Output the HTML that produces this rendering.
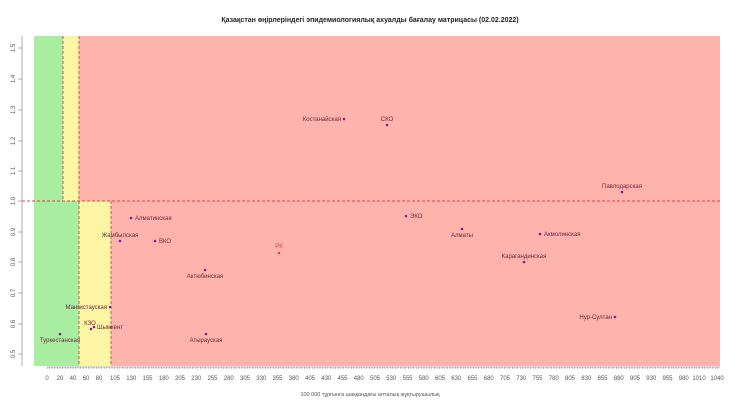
<!DOCTYPE html>
<html><head><meta charset="utf-8"><style>
body{margin:0;background:#fff}
svg{display:block;font-family:"Liberation Sans",sans-serif}
.l{font-size:6px;fill:#6a2a3a}
.t{font-size:6px;fill:#555}
</style></head><body>
<svg width="740" height="410" viewBox="0 0 740 410" xmlns="http://www.w3.org/2000/svg">
<rect width="740" height="410" fill="#fff"/>
<text x="370" y="22" text-anchor="middle" style="font-size:7px;font-weight:bold;fill:#222">Қазақстан өңірлеріндегі эпидемиологиялық ахуалды бағалау матрицасы  (02.02.2022)</text>
<!-- zones -->
<rect x="34" y="36" width="29" height="165" fill="#a8eda0"/>
<rect x="63" y="36" width="16" height="165" fill="#fbf5a4"/>
<rect x="79" y="36" width="641" height="165" fill="#feb3ad"/>
<rect x="34" y="201" width="45" height="165" fill="#a8eda0"/>
<rect x="79" y="201" width="32" height="165" fill="#fbf5a4"/>
<rect x="111" y="201" width="609" height="165" fill="#feb3ad"/>
<g stroke="#c0504d" stroke-width="0.9" stroke-dasharray="3,2" fill="none">
<line x1="63" y1="36" x2="63" y2="201"/>
<line x1="79" y1="36" x2="79" y2="366"/>
<line x1="111" y1="201" x2="111" y2="366"/>
<line x1="22" y1="201" x2="720" y2="201" stroke="#e04040"/>
</g>
<!-- y axis -->
<line x1="22" y1="36" x2="22" y2="366" stroke="#999" stroke-width="0.8"/>
<g stroke="#999" stroke-width="0.8">
<line x1="18" y1="48" x2="22" y2="48"/><line x1="18" y1="79" x2="22" y2="79"/><line x1="18" y1="110" x2="22" y2="110"/><line x1="18" y1="141" x2="22" y2="141"/><line x1="18" y1="171" x2="22" y2="171"/><line x1="18" y1="201" x2="22" y2="201"/><line x1="18" y1="232" x2="22" y2="232"/><line x1="18" y1="262" x2="22" y2="262"/><line x1="18" y1="293" x2="22" y2="293"/><line x1="18" y1="324" x2="22" y2="324"/><line x1="18" y1="354" x2="22" y2="354"/>
</g>
<g class="t" text-anchor="middle">
<text transform="translate(13,48) rotate(-90)" dy="2">1.5</text>
<text transform="translate(13,79) rotate(-90)" dy="2">1.4</text>
<text transform="translate(13,110) rotate(-90)" dy="2">1.3</text>
<text transform="translate(13,141) rotate(-90)" dy="2">1.2</text>
<text transform="translate(13,171) rotate(-90)" dy="2">1.1</text>
<text transform="translate(13,201) rotate(-90)" dy="2">1.0</text>
<text transform="translate(13,232) rotate(-90)" dy="2">0.9</text>
<text transform="translate(13,262) rotate(-90)" dy="2">0.8</text>
<text transform="translate(13,293) rotate(-90)" dy="2">0.7</text>
<text transform="translate(13,324) rotate(-90)" dy="2">0.6</text>
<text transform="translate(13,354) rotate(-90)" dy="2">0.5</text>
</g>
<!-- x axis -->
<line x1="47" y1="367" x2="720" y2="367" stroke="#999" stroke-width="0.8"/>
<g id="xt" class="t" text-anchor="middle"></g>
<path id="xtk" stroke="#999" stroke-width="0.6" fill="none"/>
<text x="370" y="396" text-anchor="middle" class="t" style="font-size:5.5px">100 000 тұрғынға шаққандағы апталық жұқтырушылық</text>
<!-- points -->
<g fill="#7a1fa0">
<circle cx="344" cy="119" r="1.3"/><circle cx="387" cy="125" r="1.3"/><circle cx="622" cy="192" r="1.3"/>
<circle cx="406" cy="216" r="1.3"/><circle cx="131" cy="218" r="1.3"/><circle cx="120" cy="241" r="1.3"/>
<circle cx="155" cy="241" r="1.3"/><circle cx="205" cy="270" r="1.3"/><circle cx="462" cy="229" r="1.3"/>
<circle cx="540" cy="234" r="1.3"/><circle cx="524" cy="262" r="1.3"/><circle cx="110" cy="307" r="1.3"/>
<circle cx="91" cy="329" r="1.3"/><circle cx="94" cy="327" r="1.3"/><circle cx="60" cy="334" r="1.3"/>
<circle cx="206" cy="334" r="1.3"/><circle cx="615" cy="317" r="1.3"/>
</g>
<circle cx="279" cy="253" r="1.3" fill="#e04040"/>
<g class="l">
<text x="341" y="121" text-anchor="end">Костанайская</text>
<text x="387" y="121" text-anchor="middle">СКО</text>
<text x="622" y="188" text-anchor="middle">Павлодарская</text>
<text x="410" y="218">ЭКО</text>
<text x="135" y="220">Алматинская</text>
<text x="120" y="237" text-anchor="middle">Жамбылская</text>
<text x="159" y="243">ВКО</text>
<text x="279" y="248" text-anchor="middle" style="fill:#e04040">РК</text>
<text x="205" y="278" text-anchor="middle">Актюбинская</text>
<text x="462" y="237" text-anchor="middle">Алматы</text>
<text x="544" y="236">Акмолинская</text>
<text x="524" y="258" text-anchor="middle">Карагандинская</text>
<text x="107" y="309" text-anchor="end">Мангистауская</text>
<text x="90" y="325" text-anchor="middle">КЗО</text>
<text x="97" y="329">Шымкент</text>
<text x="60" y="342" text-anchor="middle">Туркестанская</text>
<text x="206" y="342" text-anchor="middle">Атырауская</text>
<text x="612" y="319" text-anchor="end">Нур-Султан</text>
</g>
<script>
var g=document.getElementById('xt'),d='';
function add(v,x){var t=document.createElementNS('http://www.w3.org/2000/svg','text');t.setAttribute('x',x);t.setAttribute('y',380);t.textContent=v;g.appendChild(t);}
for(var i=0;i<5;i++)add(i*20,47+13*i);
for(var v=105;v<=980;v+=25)add(v,115+(v-105)*0.65);
add(1010,699);add(1040,717);
for(var x=47;x<=720;x+=2.6)d+='M'+x.toFixed(1)+' 367v2';
document.getElementById('xtk').setAttribute('d',d);
</script>
</svg>
</body></html>
